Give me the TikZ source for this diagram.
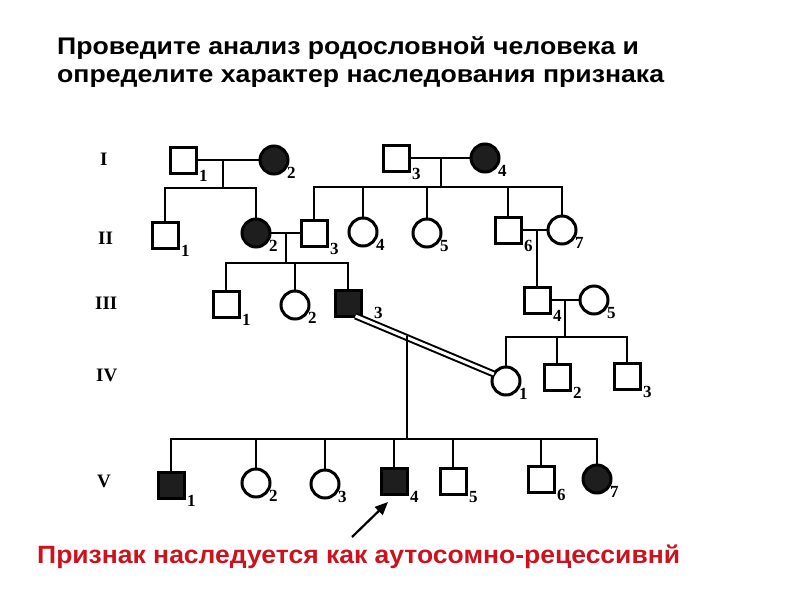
\documentclass[tikz,border=0pt]{standalone}
\usepackage{fontspec}
\setmainfont{Liberation Sans}
\newfontfamily\titlefont[FakeStretch=1.11]{Liberation Sans}
\newfontfamily\redfont[FakeStretch=1.06]{Liberation Sans}
\newfontfamily\numfont{Liberation Serif}
\usetikzlibrary{arrows.meta,calc}
\definecolor{affc}{RGB}{30,30,30}
\definecolor{redtxt}{RGB}{204,18,30}
\tikzset{
  sym/.style={draw=black, line width=3pt, inner sep=0pt, outer sep=0pt},
  sq/.style={sym, rectangle, minimum size=26pt},
  ci/.style={sym, circle, minimum size=28pt},
  aff/.style={fill=affc},
  num/.style={font=\numfont\bfseries\fontsize{17}{17}\selectfont, inner sep=0pt, anchor=west, xshift=3pt, yshift=-3pt},
  gen/.style={font=\numfont\bfseries\fontsize{19}{19}\selectfont, anchor=west, inner sep=0pt},
  ln/.style={line width=2.4pt, line cap=rect},
  dbl/.style={double=white, double distance=3pt, line width=2pt},
  ttl/.style={anchor=base west, inner sep=0pt, font=\titlefont\bfseries\fontsize{24}{28}\selectfont},
}
\begin{document}
\begin{tikzpicture}[x=1pt,y=-1pt]
\useasboundingbox[fill=white] (0,0) rectangle (800,600);
% title
\node[ttl] (t1) at (57,54) {Проведите анализ родословной человека и};
\node[ttl] (t2) at (57,82) {определите характер наследования признака};
\node[ttl, text=redtxt, font=\redfont\bfseries\fontsize{25}{30}\selectfont] (t3) at (37,563) {Признак наследуется как аутосомно-рецессивнй};
% generation labels
\node[gen] (gI) at (100,159) {I};
\node[gen] (gII) at (98,238) {II};
\node[gen] (gIII) at (95,303) {III};
\node[gen] (gIV) at (96,375) {IV};
\node[gen] (gV) at (97,481) {V};
% generation I
\node[sq] (I1) at (183,160) {};
\node[ci,aff] (I2) at (274,160) {};
\node[sq] (I3) at (396,158) {};
\node[ci,aff] (I4) at (485,158) {};
% generation II
\node[sq] (II1) at (165,235) {};
\node[ci,aff] (II2) at (256,233) {};
\node[sq] (II3) at (314,233) {};
\node[ci] (II4) at (363,232) {};
\node[ci] (II5) at (427,233) {};
\node[sq] (II6) at (508,230) {};
\node[ci] (II7) at (562,230) {};
% generation III
\node[sq] (III1) at (226,304) {};
\node[ci] (III2) at (295,305) {};
\node[sq,aff] (III3) at (348,303) {};
\node[sq] (III4) at (537,300) {};
\node[ci] (III5) at (594,300) {};
% generation IV
\node[ci] (IV1) at (506,381) {};
\node[sq] (IV2) at (557,377) {};
\node[sq] (IV3) at (627,376) {};
% generation V
\node[sq,aff] (V1) at (171,485) {};
\node[ci] (V2) at (256,483) {};
\node[ci] (V3) at (325,484) {};
\node[sq,aff] (V4) at (394,481) {};
\node[sq] (V5) at (453,481) {};
\node[sq] (V6) at (541,479) {};
\node[ci,aff] (V7) at (597,479) {};
% number labels
\foreach \n/\t in {I1/1,I2/2,I3/3,I4/4,II1/1,II2/2,II3/3,II4/4,II5/5,II6/6,II7/7,
  III1/1,III2/2,III4/4,III5/5,IV1/1,IV2/2,IV3/3,
  V1/1,V2/2,V3/3,V4/4,V5/5,V6/6,V7/7}
  \node[num] at (\n.south east) {\t};
\node[num, xshift=10pt, yshift=6pt] at (III3.south east) {3};
% family I1 x I2
\draw[ln] (I1) -- (I2);
\coordinate (m1) at (223,160);
\coordinate (s1) at (223,188);
\draw[ln] (m1) -- (s1);
\draw[ln] (II1 |- s1) -- (II2 |- s1);
\draw[ln] (II1 |- s1) -- (II1);
\draw[ln] (II2 |- s1) -- (II2);
% family I3 x I4
\draw[ln] (I3) -- (I4);
\coordinate (m2) at (441,158);
\coordinate (s2) at (441,187);
\draw[ln] (m2) -- (s2);
\draw[ln] (II3 |- s2) -- (II7 |- s2);
\foreach \c in {II3,II4,II5,II6,II7} \draw[ln] (\c |- s2) -- (\c);
% family II2 x II3
\draw[ln] (II2) -- (II3);
\coordinate (m3) at (286,233);
\coordinate (s3) at (286,263);
\draw[ln] (m3) -- (s3);
\draw[ln] (III1 |- s3) -- (III3 |- s3);
\foreach \c in {III1,III2,III3} \draw[ln] (\c |- s3) -- (\c);
% family II6 x II7
\draw[ln] (II6) -- (II7);
\coordinate (m4) at (537,230);
\draw[ln] (m4) -- (III4);
% family III4 x III5
\draw[ln] (III4) -- (III5);
\coordinate (m5) at (565,300);
\coordinate (s5) at (565,337);
\draw[ln] (m5) -- (s5);
\draw[ln] (IV1 |- s5) -- (IV3 |- s5);
\foreach \c in {IV1,IV2,IV3} \draw[ln] (\c |- s5) -- (\c);
% consanguineous marriage III3 x IV1
\draw[dbl] (III3.-60) -- (IV1.150);
\coordinate (m6) at ($(III3.-60)!0.37!(IV1.150)$);
\coordinate (s6) at (m6 |- 0,439);
\draw[ln] (m6) -- (s6);
\draw[ln] (V1 |- s6) -- (V7 |- s6);
\foreach \c in {V1,V2,V3,V4,V5,V6,V7} \draw[ln] (\c |- s6) -- (\c);
% proband arrow
\coordinate (atail) at (352,537);
\coordinate (atip) at (388,502);
\draw[line width=2.2pt, -{Triangle[length=13pt,width=11pt]}] (atail) -- (atip);
\end{tikzpicture}
\end{document}
